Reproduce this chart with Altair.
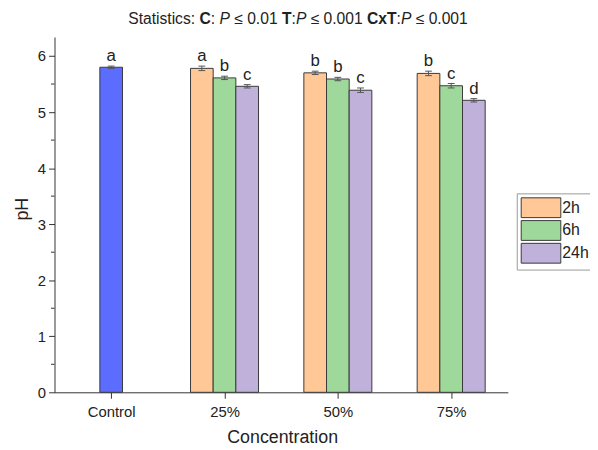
import altair as alt
import pandas as pd

# ---------------- data ----------------
categories = ["Control", "25%", "50%", "75%"]
series = ["2h", "6h", "24h"]

control_value = 5.80
control_err = 0.02
control_letter = "a"

vals_2h = [5.78, 5.70, 5.69]
vals_6h = [5.61, 5.59, 5.47]
vals_24h = [5.46, 5.39, 5.21]

err_2h = [0.04, 0.03, 0.04]
err_6h = [0.03, 0.03, 0.04]
err_24h = [0.03, 0.04, 0.03]

let_2h = ["a", "b", "b"]
let_6h = ["b", "b", "c"]
let_24h = ["c", "c", "d"]

y_ticks = [0, 1, 2, 3, 4, 5, 6]
minor_ticks = [0.5, 1.5, 2.5, 3.5, 4.5, 5.5]

title_parts = [
    ("Statistics: ", "normal", "normal"),
    ("C", "bold", "normal"),
    (": ", "normal", "normal"),
    ("P", "normal", "italic"),
    (" \u2264 0.01 ", "normal", "normal"),
    ("T", "bold", "normal"),
    (":", "normal", "normal"),
    ("P", "normal", "italic"),
    (" \u2264 0.001 ", "normal", "normal"),
    ("CxT", "bold", "normal"),
    (":", "normal", "normal"),
    ("P", "normal", "italic"),
    (" \u2264 0.001", "normal", "normal"),
]

# ---------------- styling ----------------
FONT = "Liberation Sans"
colors = {"Control": "#5B6CFF", "2h": "#FFC896", "6h": "#9ED99B", "24h": "#C0B1DA"}
W, H = 458, 359
BAR_W = 0.2
CAP_W = 0.03

# ---------------- table ----------------
rows = [dict(cat="Control", idx=1, series="Control", value=control_value,
             err=control_err, letter=control_letter, off=0.0)]
vals = {"2h": vals_2h, "6h": vals_6h, "24h": vals_24h}
errs = {"2h": err_2h, "6h": err_6h, "24h": err_24h}
lets = {"2h": let_2h, "6h": let_6h, "24h": let_24h}
offsets = {"2h": -BAR_W, "6h": 0.0, "24h": BAR_W}
for ci, cat in enumerate(categories[1:]):
    for s in series:
        rows.append(dict(cat=cat, idx=ci + 2, series=s, value=vals[s][ci],
                         err=errs[s][ci], letter=lets[s][ci], off=offsets[s]))
df = pd.DataFrame(rows)
df["pos"] = df["idx"] + df["off"]
df["x0"] = df["pos"] - BAR_W / 2
df["x1"] = df["pos"] + BAR_W / 2
df["c0"] = df["pos"] - CAP_W
df["c1"] = df["pos"] + CAP_W
df["lo"] = df["value"] - df["err"]
df["hi"] = df["value"] + df["err"]
df["zero"] = 0.0

label_arr = "[''," + ",".join("'%s'" % c for c in categories) + "]"

xscale = alt.Scale(domain=[0.5, len(categories) + 0.5], nice=False, zero=False)
yscale = alt.Scale(domain=[0, 6.34], nice=False)

xaxis = alt.Axis(values=[1, 2, 3, 4], labelExpr=label_arr + "[datum.value]",
                 title="Concentration", grid=False, tickSize=6, labelFontSize=15,
                 labelPadding=6, labelColor="#222", domainColor="#333", tickColor="#333",
                 titleFontSize=18, titleFontWeight="normal", titleColor="#222",
                 titleX=230, titleY=46, titleBaseline="middle", labelFont=FONT, titleFont=FONT)
yaxis = alt.Axis(values=y_ticks, format="d", title="pH", grid=False, tickSize=6,
                 labelFontSize=15, labelPadding=3, labelColor="#222", domainColor="#333",
                 tickColor="#333", titleFontSize=18, titleFontWeight="normal",
                 titleColor="#222", titleX=-32, titleY=H / 2 - 6, titleBaseline="middle",
                 labelFont=FONT, titleFont=FONT)

base = alt.Chart(df)

bars = base.mark_bar(stroke="#3a3a3a", strokeWidth=1).encode(
    x=alt.X("x0:Q", scale=xscale, axis=xaxis),
    x2="x1:Q",
    y=alt.Y("value:Q", scale=yscale, axis=yaxis),
    y2="zero:Q",
    color=alt.Color(
        "series:N",
        scale=alt.Scale(domain=list(colors.keys()), range=list(colors.values())),
        legend=alt.Legend(
            values=series, title=None, orient="none", legendX=467, legendY=158,
            symbolType="M-2,-1H2V1H-2Z", symbolSize=400, symbolOffset=10,
            symbolStrokeColor="#3a3a3a", symbolStrokeWidth=1, symbolOpacity=1,
            labelFontSize=16, labelFont=FONT, labelColor="#222", labelOffset=11,
            rowPadding=-2, padding=4, strokeColor="#999", fillColor="white",
        ),
    ),
)

err_color = "#555"
ebar = base.mark_rule(color=err_color, strokeWidth=1).encode(
    x="pos:Q", y="lo:Q", y2="hi:Q")
cap_hi = base.mark_rule(color=err_color, strokeWidth=1).encode(
    x="c0:Q", x2="c1:Q", y="hi:Q")
cap_lo = base.mark_rule(color=err_color, strokeWidth=1).encode(
    x="c0:Q", x2="c1:Q", y="lo:Q")

letters = base.mark_text(fontSize=17, font=FONT, color="#222", baseline="alphabetic",
                         dy=-5).encode(x="pos:Q", y="hi:Q", text="letter:N")

minor = alt.Chart(pd.DataFrame({"v": minor_ticks})).mark_rule(
    color="#333", strokeWidth=1).encode(
    y=alt.Y("v:Q", scale=yscale), x=alt.value(-3.5), x2=alt.value(0))

# ---- mixed-style title ----
widths = {"S": 667, "t": 278, "a": 556, "i": 222, "s": 500, "c": 500, ":": 278,
          " ": 278, "P": 667, "\u2264": 549, "0": 556, ".": 278, "1": 556,
          "C": 722, "x": 556, "T": 611}
TFS = 15.8
TITLE_CENTER = 246
total = sum(widths[ch] for t, _, _ in title_parts for ch in t) * TFS / 1000
cursor = TITLE_CENTER - total / 2
title_layers = []
one = pd.DataFrame({"k": [0]})
for text, weight, style in title_parts:
    lead = len(text) - len(text.lstrip(" "))
    xpos = cursor + lead * widths[" "] * TFS / 1000
    stripped = text.strip(" ")
    title_layers.append(
        alt.Chart(one).mark_text(text=stripped, fontSize=TFS, font=FONT, fontWeight=weight,
                                 fontStyle=style, align="left", baseline="alphabetic",
                                 color="#222").encode(x=alt.value(xpos), y=alt.value(-13.5))
    )
    cursor += sum(widths[ch] for ch in text) * TFS / 1000

chart = alt.layer(bars, ebar, cap_hi, cap_lo, letters, minor, *title_layers).properties(
    width=W, height=H,
    autosize=alt.AutoSizeParams(type="none"),
    padding={"left": 47, "top": 27, "right": 83, "bottom": 56},
).configure_view(stroke=None)

chart.save("out.html", embed_options={"renderer": "svg", "actions": False})
